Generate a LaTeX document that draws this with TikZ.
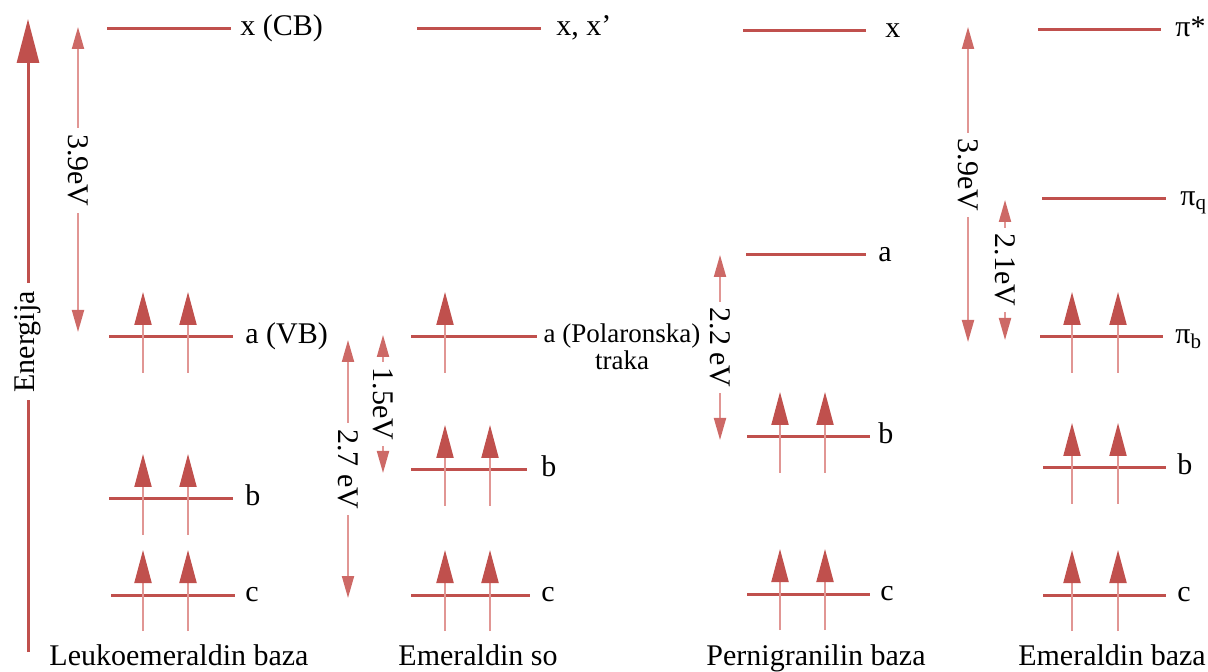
\documentclass[tikz,border=0pt]{standalone}
\usepackage{fontspec}
\setmainfont{Liberation Serif}
\usetikzlibrary{arrows.meta}
\definecolor{bandred}{RGB}{192,80,77}
\definecolor{palered}{RGB}{225,150,148}
\definecolor{tipred}{RGB}{205,105,102}

\begin{document}
\begin{tikzpicture}[x=0.5pt,y=-0.5pt,
  every node/.style={font=\fontsize{15}{18}\selectfont,text=black},
  level/.style={draw=bandred,line width=1.5pt},
  lbl/.style={anchor=mid west,inner sep=0pt},
  gap/.style={draw=palered,line width=1pt,{Triangle[length=11pt,width=6pt,color=tipred]}-{Triangle[length=11pt,width=6pt,color=tipred]}},
  gaplbl/.style={fill=white,rotate=-90,inner sep=3pt},
  elec/.style={draw=palered,line width=1pt,-{Triangle[length=16.5pt,width=8.5pt,color=bandred]}},
  title/.style={anchor=base}]
\useasboundingbox (0,0) rectangle (1208,672);

% energy axis
\coordinate (ebot) at (28,652);
\coordinate (etop) at (28,19);
\draw[draw=bandred,line width=1.5pt,-{Triangle[length=22pt,width=11pt]}] (ebot) -- node[pos=0.49,fill=white,rotate=90,inner sep=4pt] (energ) {Energija} (etop);

% levels and their labels
\foreach \xa/\xb/\y/\xl/\nm/\txt in {
  107/231/29/240/lxcb/{x (CB)}, 109/233/337/245/lavb/{a (VB)}, 109/233/499/245/lb1/b, 111/235/595/245/lc1/c,
  417/541/29/556/lxx/{x, x'}, 411/537/337/0/la2/{}, 411/527/470/541/lb2/b, 411/530/595/541/lc2/c,
  743/866/31/885/lx3/x, 746/866/255/878/la3/a, 747/870/437/878/lb3/b, 747/870/594/880/lc3/c,
  1038/1161/30/1175/lpis/{π*}, 1042/1166/199/1180/lpiq/{π\textsubscript{q}}, 1040/1163/337/1175/lpib/{π\textsubscript{b}},
  1043/1166/468/1177/lb4/b, 1043/1166/595/1177/lc4/c}
 {\draw[level] (\xa,\y) -- (\xb,\y);
  \node[lbl] (\nm) at (\xl,\y+2) {\txt};}
\node[align=center,font=\fontsize{13.5}{11}\selectfont] (polar) at (622,347) {a (Polaronska)\\traka};

% electrons
\foreach \x/\y in {143/337,188/337,143/499,188/499,143/595,188/595,
  445/337,445/470,490/470,445/595,490/595,
  780/437,825/437,780/594,825/594,
  1072/337,1118/337,1072/468,1118/468,1072/595,1118/595}
  \draw[elec] (\x,\y+36) -- (\x,\y-45);

% band gaps
\coordinate (g1t) at (78,27);   \coordinate (g1b) at (78,332);
\coordinate (g2t) at (348,340); \coordinate (g2b) at (348,598);
\coordinate (g3t) at (383,335); \coordinate (g3b) at (383,473);
\coordinate (g4t) at (720,255); \coordinate (g4b) at (720,440);
\coordinate (g5t) at (968,27);  \coordinate (g5b) at (968,342);
\coordinate (g6t) at (1005,200); \coordinate (g6b) at (1005,340);
\draw[gap] (g1t) -- node[gaplbl,pos=0.47] (e1) {3.9eV} (g1b);
\draw[gap] (g2t) -- node[gaplbl] (e2) {2.7 eV} (g2b);
\draw[gap] (g3t) -- node[gaplbl] (e3) {1.5eV} (g3b);
\draw[gap] (g4t) -- node[gaplbl] (e4) {2.2 eV} (g4b);
\draw[gap] (g5t) -- node[gaplbl,pos=0.47] (e5) {3.9eV} (g5b);
\draw[gap] (g6t) -- node[gaplbl] (e6) {2.1eV} (g6b);

% titles
\node[title] (leuko) at (179,665) {Leukoemeraldin baza};
\node[title] (emso) at (478,665) {Emeraldin so};
\node[title] (perni) at (816,665) {Pernigranilin baza};
\node[title] (embaza) at (1112,665) {Emeraldin baza};
\end{tikzpicture}
\end{document}
